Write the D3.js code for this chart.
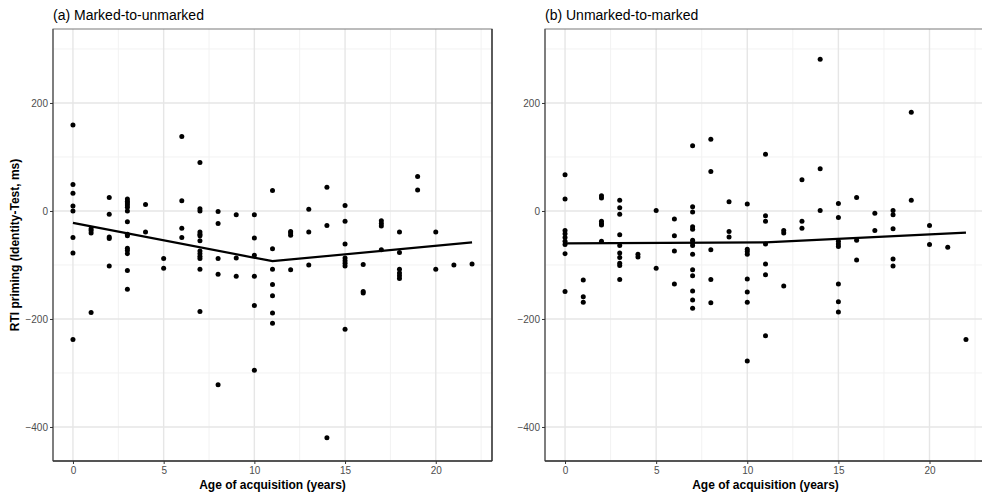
<!DOCTYPE html>
<html>
<head>
<meta charset="utf-8">
<script src="https://cdn.jsdelivr.net/npm/d3@7"></script>
<style>
  body { margin: 0; background: #fff; }
  text { font-family: "Liberation Sans", Arial, sans-serif; }
</style>
</head>
<body>
<div class="board"></div>
<script>
// panel (a): marked-to-unmarked
var aAge = [0,0,0,0,0,0,0,0, 1,1,1,1, 2,2,2,2,2,
  3,3,3,3,3,3,3,3,3,3,3,3,3,3, 4,4, 5,5, 6,6,6,6,
  7,7,7,7,7,7,7,7,7,7,7,7,7, 8,8,8,8,8, 9,9,9,
  10,10,10,10,10,10, 11,11,11,11,11,11,11, 12,12,12,12, 13,13,13, 14,14,14,
  15,15,15,15,15,15,15,15, 16,16,16, 17,17,17,17, 18,18,18,18,18,18,
  19,19, 20,20, 21, 22];
var aRT = [159,49,33,9,0,-49,-78,-238, -33,-36,-41,-188, 25,-6,-48,-51,-102,
  22,18,15,11,7,0,-20,-43,-46,-69,-73,-79,-110,-145, 12,-39, -88,-106, 138,19,-32,-49,
  90,4,0,-39,-43,-46,-55,-74,-79,-84,-88,-108,-186, -1,-23,-88,-117,-322, -7,-87,-121,
  -7,-50,-82,-121,-175,-295, 38,-70,-108,-136,-157,-189,-208, -38,-41,-45,-109, 3,-39,-100, 44,-27,-420,
  10,-19,-61,-87,-92,-97,-102,-219, -99,-149,-152, -18,-23,-28,-72, -39,-77,-108,-115,-120,-125,
  64,39, -39,-108, -100, -98];
var aFitAge = [0, 11, 22];
var aFitRT = [-22, -93, -58];

// panel (b): unmarked-to-marked
var bAge = [0,0,0,0,0,0,0,0,0, 1,1,1, 2,2,2,2,2,2,
  3,3,3,3,3,3,3,3,3,3, 4,4, 5,5, 6,6,6,6,
  7,7,7,7,7,7,7,7,7,7,7,7,7,7, 8,8,8,8,8, 9,9,9,
  10,10,10,10,10,10,10,10, 11,11,11,11,11,11,11, 12,12,12, 13,13,13, 14,14,14,
  15,15,15,15,15,15,15,15, 16,16,16, 17,17, 18,18,18,18,18, 19,19, 20,20, 21, 22];
var bRT = [67,22,-36,-42,-49,-56,-62,-79,-149, -128,-159,-169, 28,24,-19,-23,-26,-56,
  20,6,-6,-44,-64,-78,-86,-97,-101,-127, -80,-85, 1,-106, -15,-46,-74,-135,
  121,8,-2,-29,-34,-54,-59,-64,-80,-109,-120,-148,-165,-180, 133,73,-72,-127,-170, 17,-38,-48,
  13,-71,-75,-80,-126,-150,-169,-278, 105,-9,-19,-61,-98,-118,-231, -36,-41,-139, 58,-19,-32, 281,78,1,
  14,-12,-56,-61,-66,-135,-168,-187, 25,-54,-91, -4,-36, 1,-7,-33,-89,-102, 183,20, -27,-62, -67, -238];
var bFitAge = [0, 11, 22];
var bFitRT = [-60, -58, -40];

var titles = ['(a) Marked-to-unmarked', '(b) Unmarked-to-marked'];
var xTicks = [0, 5, 10, 15, 20];
var xMinor = [2.5, 7.5, 12.5, 17.5, 22.5];
var yTicks = [-400, -200, 0, 200];
var yMinor = [-300, -100, 100, 300];

var svg = d3.select('.board').append('svg')
  .attr('width', 982)
  .attr('height', 494)
  .style('display', 'block');

var plotTop = 29, plotBottom = 461;

var y = d3.scaleLinear().domain([-463, 337]).range([plotBottom, plotTop]);

var drawPanel = function (left, right, ages, rts, fitAge, fitRT, title) {
  var x = d3.scaleLinear().domain([-1.1, 23.1]).range([left, right]);
  var g = svg.append('g');

  g.append('rect')
    .attr('x', left).attr('y', plotTop)
    .attr('width', right - left).attr('height', plotBottom - plotTop)
    .style('fill', '#fff');

  g.selectAll('.minx').data(xMinor).enter().append('line')
    .attr('x1', function (d) { return x(d); }).attr('x2', function (d) { return x(d); })
    .attr('y1', plotTop).attr('y2', plotBottom)
    .style('stroke', '#f2f2f2').style('stroke-width', 1);
  g.selectAll('.miny').data(yMinor).enter().append('line')
    .attr('y1', function (d) { return y(d); }).attr('y2', function (d) { return y(d); })
    .attr('x1', left).attr('x2', right)
    .style('stroke', '#f2f2f2').style('stroke-width', 1);
  g.selectAll('.majx').data(xTicks).enter().append('line')
    .attr('x1', function (d) { return x(d); }).attr('x2', function (d) { return x(d); })
    .attr('y1', plotTop).attr('y2', plotBottom)
    .style('stroke', '#e6e6e6').style('stroke-width', 1.4);
  g.selectAll('.majy').data(yTicks).enter().append('line')
    .attr('y1', function (d) { return y(d); }).attr('y2', function (d) { return y(d); })
    .attr('x1', left).attr('x2', right)
    .style('stroke', '#e6e6e6').style('stroke-width', 1.4);

  g.selectAll('circle').data(ages).enter().append('circle')
    .attr('cx', function (d) { return x(d); })
    .attr('cy', function (d, i) { return y(rts[i]); })
    .attr('r', 2.5)
    .style('fill', '#000');

  var line = d3.line()
    .x(function (d) { return x(d); })
    .y(function (d, i) { return y(fitRT[i]); });
  g.append('path')
    .attr('d', line(fitAge))
    .style('fill', 'none').style('stroke', '#000').style('stroke-width', 2.2);

  // border
  g.append('rect')
    .attr('x', left).attr('y', plotTop)
    .attr('width', right - left).attr('height', plotBottom - plotTop)
    .style('fill', 'none').style('stroke', '#7a7a7a').style('stroke-width', 1);
  g.append('line').attr('x1', left).attr('x2', left).attr('y1', plotTop).attr('y2', plotBottom)
    .style('stroke', '#555').style('stroke-width', 1.2);
  g.append('line').attr('x1', right).attr('x2', right).attr('y1', plotTop).attr('y2', plotBottom)
    .style('stroke', '#333').style('stroke-width', 1.4);
  g.append('line').attr('x1', left).attr('x2', right).attr('y1', plotBottom).attr('y2', plotBottom)
    .style('stroke', '#333').style('stroke-width', 1.4);

  var xAxis = g.append('g')
    .attr('transform', 'translate(0,' + plotBottom + ')')
    .call(d3.axisBottom(x).tickValues(xTicks).tickSize(3).tickPadding(3));
  var yAxis = g.append('g')
    .attr('transform', 'translate(' + left + ',0)')
    .call(d3.axisLeft(y).tickValues(yTicks).tickSize(3).tickPadding(2));
  [xAxis, yAxis].forEach(function (a) {
    a.select('.domain').remove();
    a.selectAll('line').style('stroke', '#333');
    a.selectAll('text').style('fill', '#4d4d4d').style('font-size', '10px')
      .style('font-family', '"Liberation Sans", Arial, sans-serif');
  });

  g.append('text')
    .attr('x', left).attr('y', 20)
    .style('font-size', '14px').style('fill', '#000')
    .text(title);

  g.append('text')
    .attr('x', (left + right) / 2).attr('y', 489)
    .attr('text-anchor', 'middle')
    .style('font-size', '12px').style('font-weight', 'bold')
    .text('Age of acquisition (years)');
};

drawPanel(53, 492, aAge, aRT, aFitAge, aFitRT, titles[0]);
drawPanel(545, 986, bAge, bRT, bFitAge, bFitRT, titles[1]);

svg.append('text')
  .attr('transform', 'translate(19,' + ((plotTop + plotBottom) / 2) + ') rotate(-90)')
  .attr('text-anchor', 'middle')
  .style('font-size', '12px').style('font-weight', 'bold')
  .text('RTI priming (Identity-Test, ms)');
</script>
</body>
</html>
